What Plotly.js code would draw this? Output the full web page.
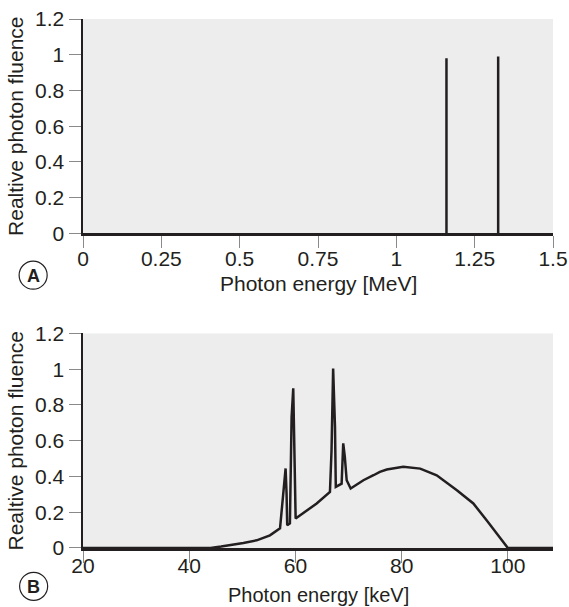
<!DOCTYPE html>
<html>
<head>
<meta charset="utf-8">
<script src="https://cdn.plot.ly/plotly-3.0.1.min.js"></script>
<style>
  html, body { margin: 0; padding: 0; background: #ffffff; }
  #chart { width: 569px; height: 607px; }
</style>
</head>
<body>
<div id="chart"></div>
<script>
// ---- Panel A: discrete gamma lines (MeV) ----
const lineEnergyMeV = [1.16, 1.325];
const lineFluence = [0.98, 0.99];
const tickValsA = [0, 0.25, 0.5, 0.75, 1, 1.25, 1.5];
const tickTextA = ["0", "0.25", "0.5", "0.75", "1", "1.25", "1.5"];

// ---- Panel B: X-ray spectrum (keV) ----
const energyKeV = [20, 44, 46, 48, 50.2, 52.7, 55.2, 57.1, 58.15, 58.33, 58.45, 58.96, 59.28, 59.59, 59.9, 60.04,
                   64.0, 66.5, 66.8, 67.1, 67.45, 67.6, 68.7, 69.0, 69.3, 69.65, 70.4, 72.8, 74.7, 75.9, 77.2,
                   80.3, 83.5, 86.6, 90.4, 93.5, 96.0, 97.9, 99.8, 100, 108.5];
const fluenceB = [0, 0, 0.008, 0.016, 0.028, 0.043, 0.071, 0.110, 0.445, 0.306, 0.127, 0.138, 0.733, 0.893, 0.454, 0.165,
                  0.249, 0.314, 0.547, 1.004, 0.678, 0.342, 0.36, 0.585, 0.51, 0.379, 0.333, 0.379, 0.407, 0.426, 0.439,
                  0.454, 0.444, 0.407, 0.323, 0.249, 0.155, 0.081, 0.01, 0, 0];
const tickValsB = [20, 40, 60, 80, 100];
const tickTextB = ["20", "40", "60", "80", "100"];

const tickValsY = [0, 0.2, 0.4, 0.6, 0.8, 1, 1.2];
const tickTextY = ["0", "0.2", "0.4", "0.6", "0.8", "1", "1.2"];

const yTitle = "Realtive photon fluence";
const xTitleA = "Photon energy [MeV]";
const xTitleB = "Photon energy [keV]";

const ink = "#231f20";
const FONT = "Liberation Sans, Arial, Helvetica, sans-serif";

// build stick segments for panel A from the arrays
const segX = [], segY = [];
lineEnergyMeV.forEach((e, i) => { segX.push(e, e, null); segY.push(0, lineFluence[i], null); });

const traces = [
  { x: segX, y: segY, xaxis: "x", yaxis: "y", mode: "lines", type: "scatter",
    line: { color: ink, width: 2.5 }, hoverinfo: "skip", showlegend: false },
  { x: energyKeV, y: fluenceB, xaxis: "x2", yaxis: "y2", mode: "lines", type: "scatter",
    line: { color: ink, width: 2.5 }, showlegend: false }
];

function yaxisCfg(domain) {
  return {
    domain: domain, range: [0, 1.2], tickvals: tickValsY, ticktext: tickTextY,
    showline: true, linecolor: ink, linewidth: 2.5, showgrid: false, zeroline: false,
    ticks: "outside", ticklen: 12, tickwidth: 1, tickcolor: "#8a8a8a",
    tickfont: { family: FONT, size: 21, color: ink },
    title: { text: yTitle, font: { family: FONT, size: 21, color: ink }, standoff: 6 },
    automargin: false, fixedrange: true
  };
}
function xaxisCfg(range, tv, tt, anchor, standoff) {
  return {
    anchor: anchor, range: range, tickvals: tv, ticktext: tt,
    showline: true, linecolor: ink, linewidth: 2.5, showgrid: false, zeroline: false,
    ticks: "outside", ticklen: 12, tickwidth: 1, tickcolor: "#8a8a8a",
    ticklabelstandoff: standoff,
    tickfont: { family: FONT, size: 21, color: ink },
    automargin: false, fixedrange: true
  };
}

const W = 569, H = 607;
const L = 83.3, R = 552.7, T = 19, B = 547.7;
const PW = R - L, PH = B - T;
const px2x = p => (p - L) / PW;
const px2y = p => (B - p) / PH;

function circle(cx, cy, r) {
  return { type: "circle", xref: "paper", yref: "paper",
    x0: px2x(cx - r), x1: px2x(cx + r), y0: px2y(cy + r), y1: px2y(cy - r),
    line: { color: ink, width: 1.2 }, fillcolor: "rgba(0,0,0,0)" };
}
function label(txt, cx, cy) {
  return { text: txt, xref: "paper", yref: "paper", x: px2x(cx), y: px2y(cy),
    xanchor: "center", yanchor: "middle", showarrow: false,
    font: { family: FONT, size: 18, color: ink, weight: "bold" } };
}
function xTitle(txt, cy, size) {
  return { text: txt, xref: "paper", yref: "paper", x: 0.5, y: px2y(cy),
    xanchor: "center", yanchor: "middle", showarrow: false, borderpad: 0,
    font: { family: FONT, size: size, color: ink } };
}

const layout = {
  width: W, height: H,
  margin: { l: L, r: W - R, t: T, b: H - B, pad: 0 },
  paper_bgcolor: "#ffffff", plot_bgcolor: "#ededed",
  showlegend: false,
  xaxis: xaxisCfg([0, 1.5], tickValsA, tickTextA, "y", -7),
  yaxis: yaxisCfg([px2y(233.3), 1]),
  xaxis2: xaxisCfg([20, 108.5], tickValsB, tickTextB, "y2", -15),
  yaxis2: yaxisCfg([0, px2y(333.3)]),
  shapes: [circle(33.5, 275, 14), circle(34, 586, 14)],
  annotations: [
    label("A", 33.5, 275.5), label("B", 34, 586.5),
    xTitle(xTitleA, 283, 21), xTitle(xTitleB, 595, 20)
  ]
};

Plotly.newPlot("chart", traces, layout, { staticPlot: true, displayModeBar: false });
</script>
</body>
</html>
